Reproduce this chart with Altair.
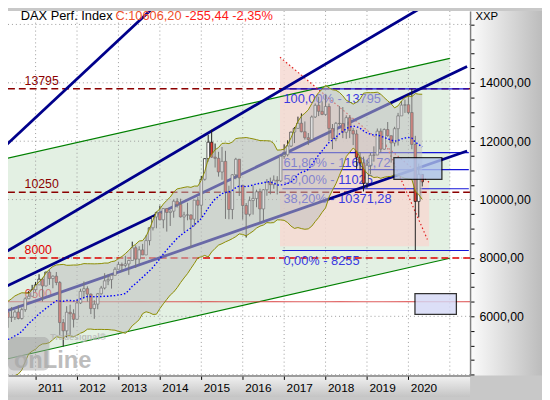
import altair as alt
import pandas as pd

# ---------------- data (monthly DAX candles, first month = Sep 2008; t = 0 is Apr 2010) ----------------
opens = [6422, 5831, 4988, 4670,
         4810, 4338, 3844, 4085, 4770, 4941, 4809, 5360, 5458, 5675, 5415, 5625,
         5957, 5608, 5598, 6154, 6136, 5964, 5966, 6148, 5925, 6229, 6601, 6688,
         6914, 7077, 7273, 7041, 7514, 7294, 7376, 7159, 5785, 5502, 6141, 6089,
         5898, 6458, 6856, 6947, 6761, 6264, 6416, 6773, 6970, 7216, 7260, 7405,
         7612, 7776, 7742, 7795, 7914, 8349, 7959, 8276, 8103, 8594, 9033, 9406,
         9552, 9306, 9692, 9556, 9603, 9943, 9833, 9407, 9470, 9474, 9326, 9980,
         9806, 10694, 11402, 11966, 11454, 11413, 10945, 11309, 10259, 9660, 10850, 11382,
         10486, 9798, 9495, 9965, 10039, 10263, 9680, 10337, 10593, 10511, 10665, 10640,
         11481, 11535, 11834, 12313, 12438, 12615, 12325, 12118, 12056, 12829, 13230, 13024,
         12918, 13189, 12436, 12097, 12612, 12605, 12306, 12806, 12364, 12247, 11448, 11257,
         10559, 11173, 11516, 11526, 12344, 11727, 12399, 12189, 11939, 12428, 12867, 13236,
         13249, 12982, 11890, 9936, 10862]
highs = [6480, 5996, 5178, 4851,
         5111, 4722, 4294, 4839, 5140, 5101, 5470, 5547, 5736, 5888, 5836, 6026,
         6094, 5708, 6202, 6342, 6162, 6317, 6216, 6376, 6299, 6655, 6867, 7077,
         7180, 7442, 7320, 7527, 7600, 7404, 7519, 7208, 5907, 6347, 6397, 6241,
         6564, 6944, 7194, 7028, 6785, 6551, 6800, 7043, 7478, 7436, 7442, 7684,
         7871, 7842, 8074, 7941, 8558, 8433, 8400, 8482, 8768, 9033, 9425, 9589,
         9794, 9708, 9706, 9625, 10000, 10050, 10029, 9582, 9891, 9490, 9984, 10093,
         10811, 11415, 12219, 12391, 11920, 11635, 11802, 11670, 10474, 10870, 11430, 11380,
         10486, 9880, 10105, 10486, 10338, 10373, 10361, 10703, 10752, 10827, 10802, 11481,
         11893, 12031, 12313, 12486, 12841, 12951, 12676, 12280, 12880, 13292, 13526, 13366,
         13596, 13290, 12588, 12660, 13204, 13170, 12886, 12887, 12457, 12390, 11620, 11470,
         11356, 11597, 11823, 12435, 12437, 12438, 12656, 12189, 12494, 12970, 13374, 13425,
         13640, 13795, 12183, 11231, 10862]
lows = [5658, 4014, 4210, 4326,
        4203, 3831, 3589, 3942, 4573, 4736, 4524, 5140, 5305, 5373, 5343, 5612,
        5540, 5434, 5564, 6041, 5607, 5806, 5877, 5893, 5887, 6155, 6593, 6741,
        6839, 7102, 6511, 7025, 7078, 6961, 7065, 5350, 4966, 5276, 5366, 5616,
        5900, 6423, 6631, 6505, 6075, 5915, 6243, 6741, 6921, 7069, 6950, 7403,
        7612, 7525, 7675, 7420, 7914, 7656, 7770, 8103, 8098, 8431, 8941, 9016,
        9302, 9017, 8903, 9096, 9378, 9726, 9384, 8903, 9290, 8355, 9086, 9219,
        9382, 10649, 11298, 11426, 11098, 10787, 10677, 9338, 9325, 9326, 10696, 10123,
        9314, 8699, 9425, 9484, 9737, 9214, 9268, 10130, 10181, 10369, 10175, 10601,
        11393, 11480, 11800, 11935, 12426, 12304, 12053, 11868, 12060, 12800, 12860, 12891,
        12872, 12004, 11727, 12002, 12530, 12104, 12081, 12105, 11865, 11051, 11010, 10279,
        10386, 10864, 11299, 11525, 11620, 11700, 12153, 11266, 11822, 11850, 12866, 12970,
        12925, 11724, 8255, 9393, 10450]
closes = [5831, 4988, 4670, 4810,
          4338, 3844, 4085, 4770, 4941, 4809, 5360, 5458, 5675, 5415, 5625, 5957,
          5608, 5598, 6154, 6136, 5964, 5966, 6148, 5925, 6229, 6601, 6688, 6914,
          7077, 7273, 7041, 7514, 7294, 7376, 7159, 5785, 5502, 6141, 6089, 5898,
          6458, 6856, 6947, 6761, 6264, 6416, 6773, 6970, 7216, 7260, 7405, 7612,
          7776, 7742, 7795, 7914, 8349, 7959, 8276, 8103, 8594, 9033, 9406, 9552,
          9306, 9692, 9556, 9603, 9943, 9833, 9407, 9470, 9474, 9326, 9980, 9806,
          10694, 11402, 11966, 11454, 11413, 10945, 11309, 10259, 9660, 10850, 11382, 10743,
          9798, 9495, 9965, 10039, 10263, 9680, 10337, 10593, 10511, 10665, 10640, 11481,
          11535, 11834, 12313, 12438, 12615, 12325, 12118, 12056, 12829, 13230, 13024, 12918,
          13189, 12436, 12097, 12612, 12605, 12306, 12806, 12364, 12247, 11448, 11257, 10559,
          11173, 11516, 11526, 12344, 11727, 12399, 12189, 11939, 12428, 12867, 13236, 13249,
          12982, 11890, 9936, 10862, 10606]
first_t = -19

years = list(range(2011, 2021))
year_t = [9 + 12 * (y - 2011) for y in years]          # January of each year
price_ticks = list(range(4000, 16500, 500))
grid_prices = [4000, 6000, 8000, 10000, 12000, 14000, 16000]

levels = [13795, 10250, 8000, 6500]
level_labels = ["13795", "10250", "8000", "6500"]
level_dash = [[7, 4], [7, 4], [7, 4], [1, 0]]
level_colors = ["#8b0000", "#8b0000", "#e00000", "#d83c3c"]
level_label_x = 5.8

fib_values = [13795, 11608.72, 11025, 10371.28, 8255]
fib_labels = ["100,00% - 13795", "61,80% - 11608,72", "50,00% - 11025",
              "38,20% - 10371,28", "0,00% - 8255"]
fib_start, fib_end = 80.5, 134.5

# trend lines: (t0, v0, t1, v1)
navy_lines = [(-2, 11597, 45, 16786), (-2, 8041, 134, 17493),
              (-2, 6889, 134, 14559), (-2, 6078, 134, 11665)]
green_upper = (-2, 11342, 129, 14835)
green_lower = (-2, 4466, 129, 7990)

pink_t = [79.8, 123.0]
pink_top = [14878, 10591]
pink_bottom = [8397, 8397]
red_dotted = [(79.8, 14878, 123.0, 10591), (110.0, 12008, 122.5, 8633)]

boxes_t0 = [112.8, 118.9]
boxes_t1 = [126.7, 130.9]
boxes_v0 = [10692, 6067]
boxes_v1 = [11435, 6776]
box_fill = ["#aec2ea", "#d4d8f6"]

# ---------------- frames ----------------
df = pd.DataFrame({"t": [i + first_t for i in range(len(closes))],
                   "open": opens, "high": highs, "low": lows, "close": closes})

W, H = 469, 370
FONT = "Liberation Sans"
xscale = alt.Scale(domain=[2.43, 133.44], nice=False, zero=False)
yscale = alt.Scale(domain=[3975, 16464], nice=False, zero=False)

xaxis = alt.Axis(values=year_t, labelExpr="'' + (2011 + (datum.value - 9) / 12)",
                 labelAlign="left", labelOffset=2, labelPadding=3, labelBaseline="top",
                 labelFont=FONT, labelFontSize=12, labelColor="black",
                 tickSize=4, tickColor="black", domainColor="#808080", domainWidth=1.5,
                 grid=False, title=None, zindex=1, minExtent=22, maxExtent=22,
                 labelOverlap=False, labelFlush=False)
yaxis = alt.Axis(orient="right", values=price_ticks,
                 labelExpr="(datum.value % 2000 == 0 && datum.value >= 6000 && datum.value <= 14000) ? format(datum.value, 'd') + ',00' : ''",
                 labelFont=FONT, labelFontSize=12.5, labelColor="black", labelPadding=5,
                 tickSize=4, tickColor="black", domainColor="#808080", domainWidth=1.5,
                 grid=False, zindex=1, minExtent=73, maxExtent=73, labelOverlap=False,
                 title="XXP", titleAngle=0, titleAlign="left", titleBaseline="top",
                 titleX=5, titleY=0, titleFont=FONT, titleFontSize=11.5,
                 titleFontWeight="normal", titleColor="black")


def X(field, **kw):
    return alt.X(field, type="quantitative", scale=xscale, axis=xaxis, **kw)


def Y(field, **kw):
    return alt.Y(field, type="quantitative", scale=yscale, axis=yaxis, **kw)


def seg_frame(segs):
    rows = []
    for k, (t0, v0, t1, v1) in enumerate(segs):
        rows.append({"id": k, "t": t0, "v": v0})
        rows.append({"id": k, "t": t1, "v": v1})
    return pd.DataFrame(rows)


one = pd.DataFrame({"a": [0]})

# grid
vgrid = alt.Chart(pd.DataFrame({"t": year_t + [129]})).mark_rule(
    color="#9a9a9a", strokeDash=[1, 3], strokeWidth=1, clip=True).encode(x=X("t"))
hgrid = alt.Chart(pd.DataFrame({"v": grid_prices})).mark_rule(
    color="#9a9a9a", strokeDash=[1, 3], strokeWidth=1, clip=True).encode(y=Y("v"))

# green channel
gdf = pd.DataFrame({"t": [green_upper[0], green_upper[2]],
                    "lo": [green_lower[1], green_lower[3]],
                    "hi": [green_upper[1], green_upper[3]]})
gfill = alt.Chart(gdf).mark_area(color="#e3f0e3", clip=True).encode(x=X("t"), y=Y("lo"), y2="hi")
glines = alt.Chart(seg_frame([green_upper, green_lower])).mark_line(
    color="#008000", strokeWidth=1.2, clip=True).encode(x=X("t"), y=Y("v"), detail="id:N")

# pink zone
pdf = pd.DataFrame({"t": pink_t, "top": pink_top, "bot": pink_bottom})
pink = alt.Chart(pdf).mark_area(color="#f6d9d2", opacity=0.85, clip=True).encode(
    x=X("t"), y=Y("top"), y2="bot")
pinklines = alt.Chart(seg_frame(red_dotted)).mark_line(
    color="#e02020", strokeDash=[1.5, 2.5], strokeWidth=1.2, clip=True).encode(
    x=X("t"), y=Y("v"), detail="id:N")

# horizontal levels
lvl = pd.DataFrame({"v": levels, "label": level_labels,
                    "c": level_colors, "k": list(range(len(levels)))})
lvl_rules = []
for k in range(len(levels)):
    lvl_rules.append(alt.Chart(lvl[lvl.k == k]).mark_rule(
        color=level_colors[k], strokeDash=level_dash[k],
        strokeWidth=1.4 if k < 3 else 1.0).encode(y=Y("v")))
lvl_text = alt.Chart(lvl.assign(t=level_label_x)).mark_text(
    align="left", baseline="alphabetic", dy=-4, font=FONT, fontSize=12.5).encode(
    x=X("t"), y=Y("v"), text="label:N", color=alt.Color("c:N", scale=None))

# fibonacci
fib = pd.DataFrame({"v": fib_values, "label": fib_labels, "t": fib_start, "t2": fib_end})
fib_rules = alt.Chart(fib).mark_rule(color="#1515d8", strokeWidth=1.2, clip=True).encode(
    x=X("t"), x2="t2", y=Y("v"))
fib_text = alt.Chart(fib).mark_text(align="left", baseline="alphabetic", dx=1, dy=14.5,
                                    font=FONT, fontSize=13, color="#3a3ae0").encode(
    x=X("t"), y=Y("v"), text="label:N")

# navy trend lines
navy = alt.Chart(seg_frame(navy_lines)).mark_line(
    color="#00008b", strokeWidth=2.8, clip=True).encode(x=X("t"), y=Y("v"), detail="id:N")

# candles
wicks = alt.Chart(df).mark_rule(color="#1e1e1e", strokeWidth=1, clip=True).encode(
    x=X("t"), y=Y("low"), y2="high")
bodies = alt.Chart(df).mark_bar(size=2.6, stroke="#1a1a1a", strokeWidth=0.7, clip=True).encode(
    x=X("t"), y=Y("open"), y2="close",
    fill=alt.condition("datum.close >= datum.open", alt.value("white"), alt.value("#e03c31")))

# Bollinger band (20, 2) from the closes
boll = alt.Chart(df).transform_window(
    mid="mean(close)", sd="stdevp(close)", frame=[-19, 0], sort=[alt.SortField("t")]
).transform_calculate(
    up="datum.mid + 2 * datum.sd", lo="datum.mid - 2 * datum.sd"
).transform_filter("datum.t >= 0")
band = boll.mark_area(color="#c0c0c0", opacity=0.55, clip=True).encode(x=X("t"), y=Y("lo"), y2="up")
band_up = boll.mark_line(color="#8c8c00", strokeWidth=1, clip=True).encode(x=X("t"), y=Y("up"))
band_lo = boll.mark_line(color="#8c8c00", strokeWidth=1, clip=True).encode(x=X("t"), y=Y("lo"))
sma = boll.mark_line(color="#0000ff", strokeWidth=1.4, strokeDash=[1.5, 2], clip=True).encode(
    x=X("t"), y=Y("mid"))

# boxes
bdf = pd.DataFrame({"t0": boxes_t0, "t1": boxes_t1, "v0": boxes_v0, "v1": boxes_v1, "f": box_fill})
boxes = alt.Chart(bdf).mark_rect(stroke="black", strokeWidth=1.3, opacity=0.8, clip=True).encode(
    x=X("t0"), x2="t1", y=Y("v0"), y2="v1", fill=alt.Fill("f:N", scale=None))

# panels outside plot
right_panel = alt.Chart(one).mark_rect(fill=alt.Gradient(
    gradient="linear", x1=0, x2=1, y1=0, y2=0,
    stops=[alt.GradientStop(color="#fcfcfc", offset=0), alt.GradientStop(color="#bcbcbc", offset=1)])
).encode(x=alt.value(W), x2=alt.value(W + 73), y=alt.value(0), y2=alt.value(H))
bottom_panel = alt.Chart(one).mark_rect(fill=alt.Gradient(
    gradient="linear", x1=0, x2=0, y1=0, y2=1,
    stops=[alt.GradientStop(color="#f2f2f2", offset=0), alt.GradientStop(color="#c4c4c4", offset=1)])
).encode(x=alt.value(0), x2=alt.value(W), y=alt.value(H), y2=alt.value(H + 22))

# watermark
wm_box = alt.Chart(one).mark_rect(fill="#9c9c9c", opacity=0.45, cornerRadius=6).encode(
    x=alt.value(0), x2=alt.value(42), y=alt.value(331), y2=alt.value(365))
wm_text = alt.Chart(one).mark_text(text="onLine", align="left", baseline="alphabetic",
                                   font=FONT, fontSize=24, fontWeight="bold",
                                   color="#a8a8a8", opacity=0.75).encode(
    x=alt.value(6), y=alt.value(362))
wm_small = alt.Chart(one).mark_text(text="Tradesignal®", align="left", baseline="alphabetic",
                                    font=FONT, fontSize=9, fontWeight="bold",
                                    color="#b4b4b4", opacity=0.8).encode(
    x=alt.value(43), y=alt.value(334))

# header
t1 = alt.Chart(one).mark_text(text="DAX Perf. Index", align="left", baseline="alphabetic",
                              font=FONT, fontSize=13, color="black").encode(
    x=alt.value(13), y=alt.value(9.5))
t2 = alt.Chart(one).mark_text(text="C:10606,20", align="left", baseline="alphabetic",
                              font=FONT, fontSize=13, color="#f0502a").encode(
    x=alt.value(109), y=alt.value(9.5))
t3 = alt.Chart(one).mark_text(text="-255,44 -2,35%", align="left", baseline="alphabetic",
                              font=FONT, fontSize=13, color="#ff1a1a").encode(
    x=alt.value(180), y=alt.value(9.5))

chart = alt.layer(
    gfill, vgrid, hgrid, pink, glines, *lvl_rules, lvl_text, fib_rules, fib_text, pinklines,
    navy, wicks, bodies, band, band_up, band_lo, sma, boxes,
    wm_box, wm_text, wm_small, t1, t2, t3, right_panel, bottom_panel
).properties(
    width=W, height=H,
    autosize=alt.AutoSizeParams(type="none"),
    padding={"left": 0, "top": 0, "right": 73, "bottom": 22},
    background="#c8c8c8"
).configure_view(fill="white", stroke=None)

chart.save("out.html", embed_options={"renderer": "svg", "actions": False})
